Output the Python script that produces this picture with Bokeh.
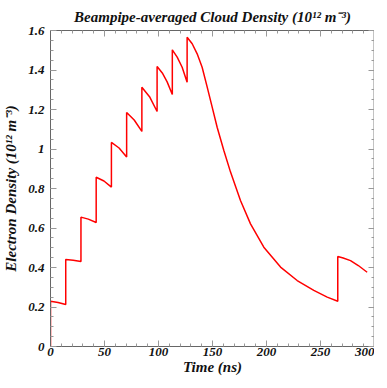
from bokeh.plotting import figure
from bokeh.models import LinearAxis, Range1d, SingleIntervalTicker, CustomJSTickFormatter
from bokeh.embed import file_html
from bokeh.resources import INLINE

# Time (ns) and density (1e12 m^-3)
time_ns = [0.0, 0.0, 7.0, 14.1, 14.1, 21.0, 28.2, 28.2, 35.0, 42.3, 42.3, 49.5, 56.4, 56.4,
           63.5, 70.5, 70.5, 77.5, 84.6, 84.6, 91.7, 98.7, 98.7, 103.5, 108.0, 112.8, 112.8,
           117.3, 121.9, 126.5, 126.5, 131.2, 135.8, 140.4, 145.1, 149.7, 154.3, 160.5,
           166.7, 175.9, 185.2, 197.5, 213.0, 228.4, 243.8, 256.2, 266.0, 266.0, 271.0,
           277.8, 285.0, 293.2]
density = [0.0, 0.229, 0.223, 0.213, 0.44, 0.437, 0.43, 0.655, 0.645, 0.628, 0.857, 0.838,
           0.807, 1.033, 1.005, 0.96, 1.185, 1.147, 1.089, 1.313, 1.265, 1.19, 1.418, 1.385,
           1.34, 1.276, 1.502, 1.465, 1.414, 1.338, 1.566, 1.533, 1.482, 1.414, 1.313, 1.212,
           1.11, 0.992, 0.883, 0.739, 0.621, 0.503, 0.402, 0.334, 0.284, 0.25, 0.229, 0.456,
           0.448, 0.435, 0.41, 0.376]

y_tick_labels = {0: "0", 0.2: "0.2", 0.4: "0.4", 0.6: "0.6", 0.8: "0.8", 1.0: "1",
                 1.2: "1.2", 1.4: "1.4", 1.6: "1.6"}

FONT = "Liberation Serif"

p = figure(frame_width=324, frame_height=316,
           x_range=Range1d(0, 300), y_range=Range1d(0, 1.6),
           output_backend="svg", toolbar_location=None,
           min_border_left=0, min_border_right=0, min_border_top=0, min_border_bottom=0,
           title="Beampipe-averaged Cloud Density (10¹² m⁻³)")
p.title.text_font = FONT
p.title.text_font_style = "bold italic"
p.title.text_font_size = "15px"
p.title.align = "center"
p.title.text_color = "#111111"
p.title.standoff = 12

p.line(time_ns, density, line_color="#ff0000", line_width=1.5)

p.xaxis.ticker = SingleIntervalTicker(interval=50, num_minor_ticks=5)
p.yaxis.ticker = SingleIntervalTicker(interval=0.2, num_minor_ticks=4)
p.yaxis.major_label_overrides = y_tick_labels
p.xaxis.axis_label = "Time (ns)"
p.yaxis.axis_label = "Electron Density (10¹² m⁻³)"

for ax in (p.xaxis[0], p.yaxis[0]):
    ax.axis_label_text_font = FONT
    ax.axis_label_text_font_style = "bold italic"
    ax.axis_label_text_font_size = "15px"
    ax.major_label_text_font = FONT
    ax.major_label_text_font_style = "bold italic"
    ax.major_label_text_font_size = "13px"
    ax.major_label_text_color = "#111111"
    ax.axis_label_text_color = "#111111"
    ax.major_tick_in = 6
    ax.major_tick_out = 0
    ax.minor_tick_in = 3
    ax.minor_tick_out = 0
    ax.axis_line_color = "#666666"
    ax.major_tick_line_color = "#999999"
    ax.minor_tick_line_color = "#999999"

p.yaxis.major_label_standoff = 6
p.yaxis.axis_label_standoff = 6
p.xaxis.major_label_standoff = 1
p.xaxis.axis_label_standoff = 0

top = LinearAxis(ticker=SingleIntervalTicker(interval=50, num_minor_ticks=5),
                 formatter=CustomJSTickFormatter(code="return ''"), major_label_standoff=0,
                 major_tick_in=6, major_tick_out=0, minor_tick_in=3, minor_tick_out=0,
                 axis_line_color="#666666", major_tick_line_color="#999999",
                 minor_tick_line_color="#999999")
right = LinearAxis(ticker=SingleIntervalTicker(interval=0.2, num_minor_ticks=4),
                   formatter=CustomJSTickFormatter(code="return ''"), major_label_standoff=0,
                   major_tick_in=6, major_tick_out=0, minor_tick_in=3, minor_tick_out=0,
                   axis_line_color="#888888", axis_line_width=2,
                   major_tick_line_color="#999999", minor_tick_line_color="#999999")
p.add_layout(top, "above")
p.add_layout(right, "right")

p.xgrid.visible = False
p.ygrid.visible = False
p.outline_line_color = None
p.background_fill_color = "white"
p.border_fill_color = "white"

open("out.html", "w").write(file_html(p, INLINE))
